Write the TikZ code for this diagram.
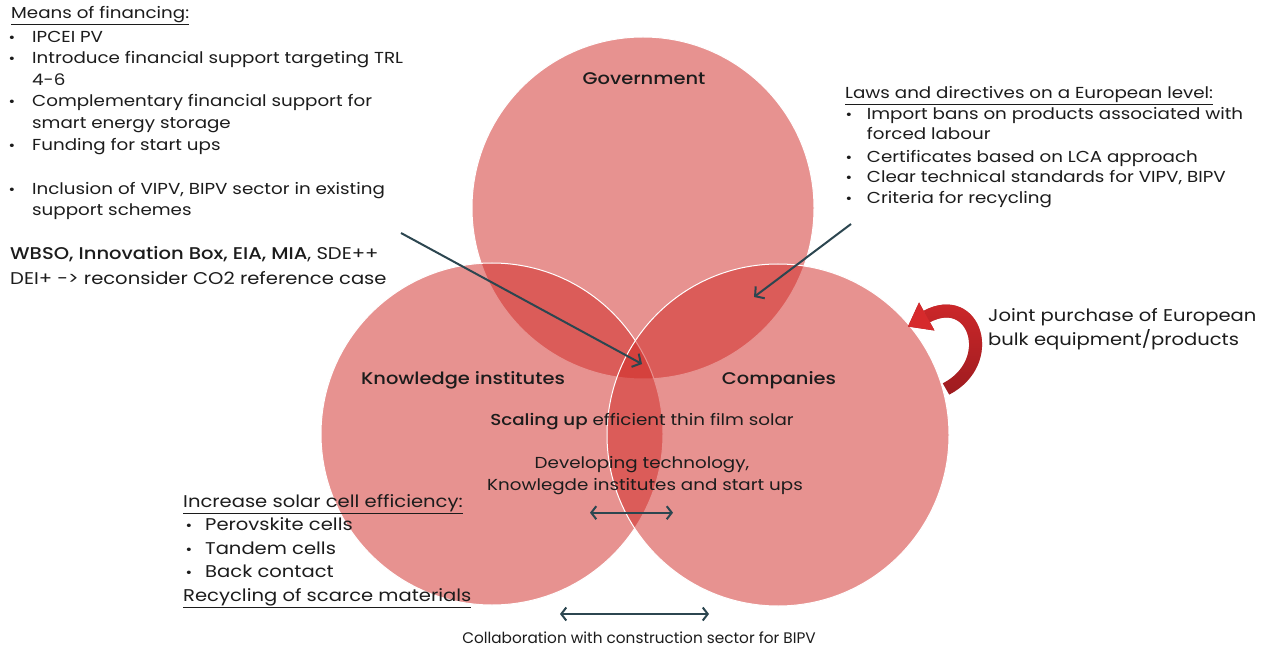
\documentclass[tikz,border=0pt]{standalone}
\usepackage{fontspec}
\setmainfont{Poppins}[FakeStretch=1.15,BoldFont={Poppins Medium}]
\newfontfamily\narrowfont{Poppins}
\usetikzlibrary{arrows.meta,fadings}

\definecolor{vennred}{RGB}{209,39,35}
\definecolor{ink}{RGB}{28,28,28}
\definecolor{slate}{RGB}{44,70,80}
\definecolor{arrowdark}{RGB}{158,28,32}
\definecolor{arrowlight}{RGB}{214,42,44}

\tikzfading[name=fade down, top color=transparent!0, bottom color=transparent!100]

\begin{document}
\begin{tikzpicture}[x=1pt,y=-1pt,
  venn/.style={circle,inner sep=0pt,minimum size=342pt,fill=vennred,fill opacity=0.5,draw=white,line width=1pt},
  txt/.style={inner sep=0pt,anchor=base west,text=ink,font=\fontsize{15.9}{18}\selectfont},
  bigtxt/.style={txt,font=\fontsize{17}{18}\selectfont},
  ctxt/.style={txt,anchor=base},
  bul/.style={inner sep=0pt,anchor=base,text=ink,font=\fontsize{14}{18}\selectfont},
  lbl/.style={ctxt,font=\fontsize{16.9}{18}\selectfont\bfseries},
  pointer/.style={draw=slate,line width=2pt,-{Straight Barb[length=6.5pt,width=15pt]}},
  twoway/.style={draw=slate,line width=2pt,{Straight Barb[length=5pt,width=13pt]}-{Straight Barb[length=5pt,width=13pt]}}
]
\useasboundingbox (0,0) rectangle (1269,652);
\fill[white] (0,0) rectangle (1269,652);

% the three overlapping circles
\node[venn] (gov) at (643,208) {};
\node[venn] (know) at (492,434) {};
\node[venn] (comp) at (778,435) {};

% circle titles
\node[lbl] (govlbl) at (644,85) {Government};
\node[lbl] (knowlbl) at (463,384) {Knowledge institutes};
\node[lbl] (complbl) at (779,384) {Companies};

% texts in the centre
\node[ctxt] (scale) at (642,425) {\textbf{Scaling up} efficient thin film solar};
\node[ctxt] (dev1) at (642,468) {Developing technology,};
\node[ctxt] (dev2) at (645,490) {Knowlegde institutes and start ups};
\node[ctxt,font=\narrowfont\fontsize{15.3}{18}\selectfont] (collab) at (639,643) {Collaboration with construction sector for BIPV};

% means of financing
\node[txt] (fin) at (11,18.5) {\underline{Means of financing:}};
\foreach \n/\y/\t in {a/42.5/IPCEI PV,
    b/64/Introduce financial support targeting TRL,
    c/85.5/4-6,
    d/107/Complementary financial support for,
    e/128.5/smart energy storage,
    f/150.5/Funding for start ups,
    g/194.5/{Inclusion of VIPV, BIPV sector in existing},
    h/216/support schemes}
  \node[txt] (fin-\n) at (32,\y) {\t};
\foreach \n/\y in {a/42.5,b/64,d/107,f/150.5,g/194.5}
  \node[bul] (finb-\n) at (12,\y) {\textbullet};
\node[bigtxt] (wbso) at (10,260) {\textbf{WBSO, Innovation Box, EIA, MIA}, SDE++};
\node[bigtxt] (dei) at (10,285) {DEI+ -> reconsider CO2 reference case};

% laws and directives
\node[txt] (laws) at (845,98.3) {\underline{Laws and directives on a European level:}};
\foreach \n/\y/\t in {a/119.3/Import bans on products associated with,
    b/140/forced labour,
    c/162.3/Certificates based on LCA approach,
    d/182.7/{Clear technical standards for VIPV, BIPV},
    e/203.3/Criteria for recycling}
  \node[txt] (law-\n) at (866.7,\y) {\t};
\foreach \n/\y in {a/119.3,c/162.3,d/182.7,e/203.3}
  \node[bul] (lawb-\n) at (849,\y) {\textbullet};

% joint purchase
\node[bigtxt] (joint1) at (988,321.7) {Joint purchase of European};
\node[bigtxt] (joint2) at (988,345.3) {bulk equipment/products};

% solar cell efficiency
\node[bigtxt] (eff) at (183,507) {\underline{Increase solar cell efficiency:}};
\foreach \n/\y/\t in {a/530.5/Perovskite cells, b/554.5/Tandem cells, c/577.5/Back contact}
  \node[bigtxt] (eff-\n) at (205,\y) {\t};
\foreach \n/\y in {a/530.5,b/554.5,c/577.5}
  \node[bul] (effb-\n) at (189,\y) {\textbullet};
\node[bigtxt] (recyc) at (183,601) {\underline{Recycling of scarce materials}};

% pointers into the overlaps
\coordinate (p1s) at (401,233);
\coordinate (p1e) at (642,364);
\coordinate (p2s) at (851,224);
\coordinate (p2e) at (754,297);
\draw[pointer] (p1s) -- (p1e);
\draw[pointer] (p2s) -- (p2e);

% two-way arrows
\coordinate (d1l) at (590,512.7);
\coordinate (d1r) at (673,512.7);
\coordinate (d2l) at (560,614);
\coordinate (d2r) at (709,614);
\draw[twoway] (d1l) -- (d1r);
\draw[twoway] (d2l) -- (d2r);

% curved red arrow on the companies circle
\coordinate (cta) at (946,389);
\coordinate (ctb) at (926.6,316.6);
\coordinate (ctup) at (919,302.5);
\coordinate (ctip) at (908,326.5);
\coordinate (ctlo) at (934.5,330.5);
\draw[line width=13pt,arrowdark] (cta) .. controls (998,362) and (975,290.7) .. (ctb);
\fill[arrowdark] (ctup) -- (ctip) -- (ctlo) -- cycle;
\draw[line width=13pt,arrowlight,path fading=fade down] (cta) .. controls (998,362) and (975,290.7) .. (ctb);
\fill[arrowlight] (ctup) -- (ctip) -- (ctlo) -- cycle;
\end{tikzpicture}
\end{document}
